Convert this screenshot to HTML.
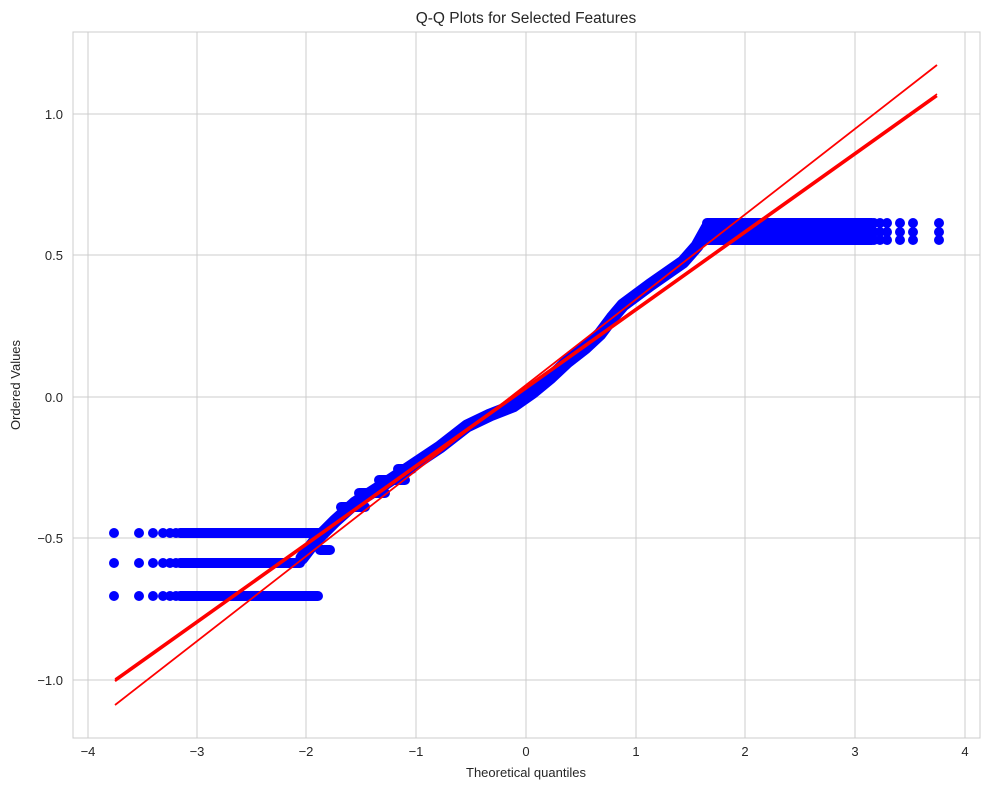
<!DOCTYPE html>
<html><head><style>body{margin:0;background:#fff}svg{display:block;font-family:"Liberation Sans","DejaVu Sans",sans-serif}</style></head>
<body>
<svg width="989" height="790" viewBox="0 0 989 790" xmlns="http://www.w3.org/2000/svg">
<rect width="989" height="790" fill="#fff"/>
<g stroke="#cccccc" stroke-width="1">
<line x1="88" y1="32" x2="88" y2="738"/><line x1="197" y1="32" x2="197" y2="738"/><line x1="306" y1="32" x2="306" y2="738"/><line x1="416" y1="32" x2="416" y2="738"/><line x1="526" y1="32" x2="526" y2="738"/><line x1="636" y1="32" x2="636" y2="738"/><line x1="745" y1="32" x2="745" y2="738"/><line x1="855" y1="32" x2="855" y2="738"/><line x1="965" y1="32" x2="965" y2="738"/>
<line x1="73" y1="114" x2="980" y2="114"/><line x1="73" y1="255" x2="980" y2="255"/><line x1="73" y1="397" x2="980" y2="397"/><line x1="73" y1="538" x2="980" y2="538"/><line x1="73" y1="680" x2="980" y2="680"/>
</g>
<rect x="73" y="32" width="907" height="706" fill="none" stroke="#cccccc" stroke-width="1"/>
<g fill="#0000ff">
<circle cx="114" cy="533" r="5"/><circle cx="139" cy="533" r="5"/><circle cx="153" cy="533" r="5"/><circle cx="163" cy="533" r="5"/><circle cx="170" cy="533" r="5"/><circle cx="176" cy="533" r="5"/>
<circle cx="114" cy="563" r="5"/><circle cx="139" cy="563" r="5"/><circle cx="153" cy="563" r="5"/><circle cx="163" cy="563" r="5"/><circle cx="170" cy="563" r="5"/><circle cx="176" cy="563" r="5"/>
<circle cx="114" cy="596" r="5"/><circle cx="139" cy="596" r="5"/><circle cx="153" cy="596" r="5"/><circle cx="163" cy="596" r="5"/><circle cx="170" cy="596" r="5"/><circle cx="176" cy="596" r="5"/>
<circle cx="939" cy="223" r="5"/><circle cx="913" cy="223" r="5"/><circle cx="900" cy="223" r="5"/><circle cx="887" cy="223" r="5"/><circle cx="880" cy="223" r="5"/><circle cx="874" cy="223" r="5"/>
<circle cx="939" cy="232" r="5"/><circle cx="913" cy="232" r="5"/><circle cx="900" cy="232" r="5"/><circle cx="887" cy="232" r="5"/><circle cx="880" cy="232" r="5"/><circle cx="874" cy="232" r="5"/>
<circle cx="939" cy="240" r="5"/><circle cx="913" cy="240" r="5"/><circle cx="900" cy="240" r="5"/><circle cx="887" cy="240" r="5"/><circle cx="880" cy="240" r="5"/><circle cx="874" cy="240" r="5"/>
</g>
<g stroke="#0000ff" stroke-linecap="round" stroke-linejoin="round" fill="none">
<line x1="180" y1="533" x2="320" y2="533" stroke-width="10"/>
<line x1="180" y1="563" x2="300" y2="563" stroke-width="10"/>
<line x1="180" y1="596" x2="318" y2="596" stroke-width="10"/>
<line x1="707" y1="223" x2="872" y2="223" stroke-width="10"/>
<line x1="707" y1="232" x2="872" y2="232" stroke-width="10"/>
<line x1="707" y1="240" x2="872" y2="240" stroke-width="10"/>
<line x1="320" y1="550" x2="330" y2="550" stroke-width="10"/>
<line x1="341" y1="507" x2="365" y2="507" stroke-width="10"/>
<line x1="359" y1="493" x2="385" y2="493" stroke-width="10"/>
<line x1="379" y1="480" x2="405" y2="480" stroke-width="10"/>
<line x1="398" y1="469" x2="412" y2="469" stroke-width="10"/>
<polyline stroke-width="13" points="302,558 315,541 335,521 355,503 380,487 410,467 440,447 467,426 490,415 513,406 533,392 550,378 567,362 585,348 600,334 612,318 623,305 650,285 683,262 697,246 707,228"/>
</g>
<g stroke="#ff0000" fill="none">
<line x1="115" y1="681" x2="937" y2="96" stroke-width="2.5"/>
<line x1="115" y1="679" x2="937" y2="94" stroke-width="1.5"/>
<line x1="115" y1="705" x2="937" y2="65" stroke-width="1.8"/>
</g>
<g font-size="13" fill="#262626" text-anchor="middle">
<text x="88" y="756">−4</text><text x="197" y="756">−3</text><text x="306" y="756">−2</text><text x="416" y="756">−1</text><text x="526" y="756">0</text><text x="636" y="756">1</text><text x="745" y="756">2</text><text x="855" y="756">3</text><text x="965" y="756">4</text>
</g>
<g font-size="13" fill="#262626" text-anchor="end">
<text x="63" y="119">1.0</text><text x="63" y="260">0.5</text><text x="63" y="402">0.0</text><text x="63" y="543">−0.5</text><text x="63" y="685">−1.0</text>
</g>
<text x="526" y="777" font-size="13" fill="#262626" text-anchor="middle">Theoretical quantiles</text>
<text transform="translate(20,385) rotate(-90)" font-size="13" fill="#262626" text-anchor="middle">Ordered Values</text>
<text x="526" y="23" font-size="15.5" fill="#262626" text-anchor="middle">Q-Q Plots for Selected Features</text>
</svg>
</body></html>
